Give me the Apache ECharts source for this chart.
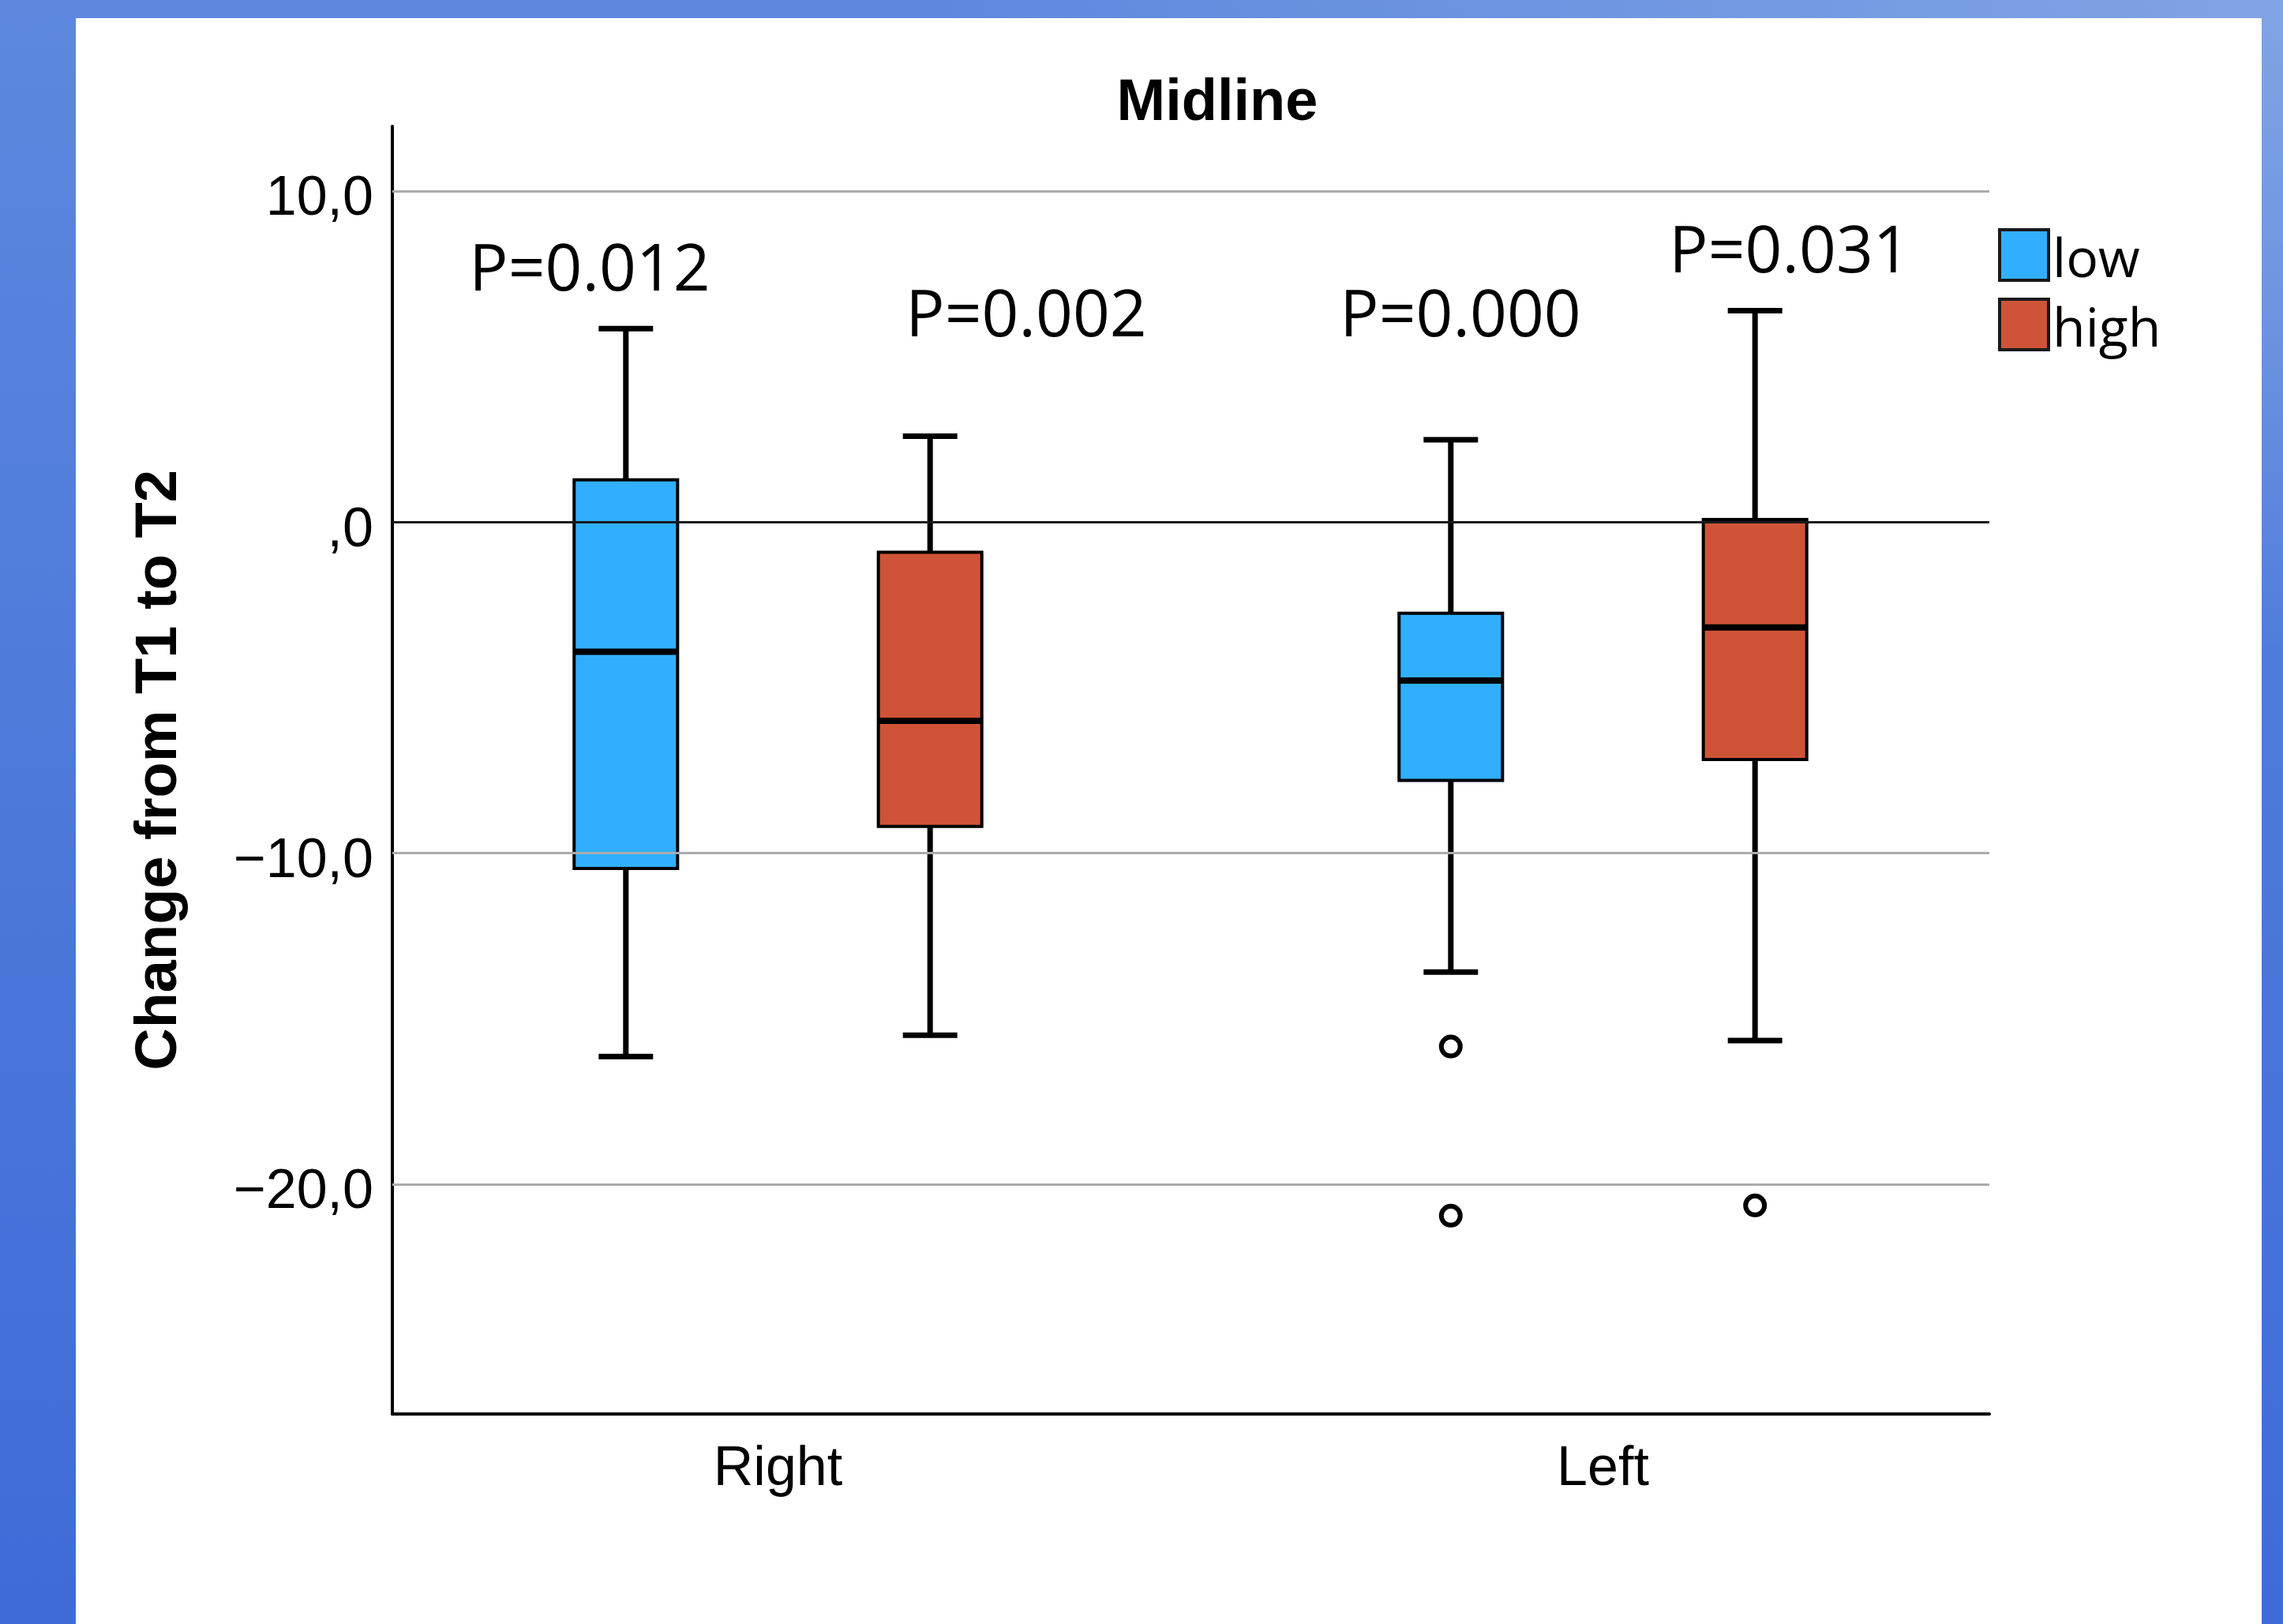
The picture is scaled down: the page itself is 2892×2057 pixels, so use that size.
<!DOCTYPE html>
<html><head><meta charset="utf-8">
<script src="https://cdn.jsdelivr.net/npm/echarts@6/dist/echarts.min.js"></script>
<style>
html,body{margin:0;padding:0;width:2892px;height:2057px;overflow:hidden;}
body{background:
  radial-gradient(ellipse 60% 40% at 100% 0%, rgba(130,166,228,0.95) 0%, rgba(130,166,228,0) 100%),
  linear-gradient(180deg,#5D88DE 0%,#4B77DA 55%,#3F6BD9 100%);}
#panel{position:absolute;left:96px;top:23px;width:2769px;height:2034px;background:#fff;}
#chart{position:absolute;left:0;top:0;width:2892px;height:2057px;}
</style></head><body>
<div id="panel"></div><div id="chart"></div>
<script>
// ---- data ----
const categories = ['Right', 'Left'];
const groupNames = ['low', 'high'];
// [min, Q1, median, Q3, max] per category
const lowStats  = [[-16.14, -10.46, -3.91, 1.28, 5.85], [-13.59, -7.80, -4.78, -2.75, 2.49]];
const highStats = [[-15.50, -9.19, -6.00, -0.91, 2.60], [-15.66, -7.17, -3.18, 0.08, 6.39]];
// outliers: [category, value]
const lowOutliers  = [['Left', -15.84], ['Left', -20.95]];
const highOutliers = [['Left', -20.64]];
const yTickValues = [-20, -10, 0, 10];
const yTickLabels = ['\u221220,0', '\u221210,0', ',0', '10,0'];
const pLabels = ['P=0.012', 'P=0.002', 'P=0.000', 'P=0.031'];
const titleText = 'Midline';
const yAxisTitle = 'Change from T1 to T2';

// ---- layout / style constants ----
const Y_MIN = -26.94, Y_MAX = 11.96;
const BOX_OFFSET = 0.1844, BOX_WIDTH = 0.1254, CAP_WIDTH = 0.066;
const colors = {low: '#31AFFE', high: '#CF5437'};
const pPos = [[747, 345], [1300, 403], [1850, 403], [2267, 322]];

function boxRender(side) {
  return function (params, api) {
    const cat = api.value(0);
    const band = api.size([1, 0])[0];
    const cx = api.coord([cat, 0])[0] + side * BOX_OFFSET * band;
    const y = v => api.coord([cat, v])[1];
    const yMin = y(api.value(1)), yQ1 = y(api.value(2)), yMed = y(api.value(3)),
          yQ3 = y(api.value(4)), yMax = y(api.value(5));
    const hw = BOX_WIDTH * band / 2, cw = CAP_WIDTH * band / 2;
    const ls = {stroke: '#000', lineWidth: 7};
    return {type: 'group', children: [
      {type: 'line', shape: {x1: cx, y1: yMax, x2: cx, y2: yQ3}, style: ls},
      {type: 'line', shape: {x1: cx, y1: yQ1, x2: cx, y2: yMin}, style: ls},
      {type: 'line', shape: {x1: cx - cw, y1: yMax, x2: cx + cw, y2: yMax}, style: ls},
      {type: 'line', shape: {x1: cx - cw, y1: yMin, x2: cx + cw, y2: yMin}, style: ls},
      {type: 'rect', shape: {x: cx - hw, y: yQ3, width: 2 * hw, height: yQ1 - yQ3},
        style: {fill: api.visual('color'), stroke: '#000', lineWidth: 4}},
      {type: 'line', shape: {x1: cx - hw, y1: yMed, x2: cx + hw, y2: yMed}, style: {stroke: '#000', lineWidth: 8}}
    ]};
  };
}
function outlierRender(side) {
  return function (params, api) {
    const cat = api.value(0);
    const band = api.size([1, 0])[0];
    const p = api.coord([cat, api.value(1)]);
    return {type: 'circle', shape: {cx: p[0] + side * BOX_OFFSET * band, cy: p[1], r: 12},
      style: {fill: '#fff', stroke: '#000', lineWidth: 6}};
  };
}
const statRows = stats => stats.map((s, i) => [i].concat(s));
const outRows = outs => outs.map(o => [categories.indexOf(o[0]), o[1]]);

const chart = echarts.init(document.getElementById('chart'), null, {renderer: 'canvas'});
chart.setOption({
  animation: false,
  backgroundColor: 'transparent',
  title: {text: titleText, left: 1542, top: 95, textAlign: 'center', padding: 0,
    textStyle: {fontSize: 74, fontWeight: 'bold', fontFamily: 'Liberation Sans', color: '#000'}},
  legend: {
    orient: 'vertical', left: 2526, top: 284, itemWidth: 62, itemHeight: 64, itemGap: 11,
    icon: 'rect', data: groupNames, selectedMode: false,
    itemStyle: {borderColor: '#1a1a1a', borderWidth: 4},
    formatter: name => '{t|' + name + '}',
    textStyle: {fontSize: 68, fontFamily: 'Open Sans', color: '#000',
      rich: {t: {fontSize: 68, fontFamily: 'Open Sans', color: '#000', padding: [18, 0, 0, 0]}}}
  },
  grid: [
    {left: 497, top: 160, width: 2023, height: 1631},
    {left: 463, top: 160, width: 2090, height: 1631}
  ],
  xAxis: [
    {gridIndex: 0, type: 'value', min: 0, max: 1,
      axisLine: {show: true, onZero: false, lineStyle: {color: '#000', width: 4}},
      axisTick: {show: false}, axisLabel: {show: false}, splitLine: {show: false}},
    {gridIndex: 1, type: 'category', data: categories,
      axisLine: {show: false}, axisTick: {show: false}, splitLine: {show: false},
      axisLabel: {fontSize: 70, fontFamily: 'Liberation Sans', color: '#000', margin: 36}}
  ],
  yAxis: [
    {gridIndex: 0, type: 'value', min: Y_MIN, max: Y_MAX,
      axisLine: {show: true, onZero: false, lineStyle: {color: '#000', width: 4}},
      axisTick: {show: false}, splitLine: {show: false},
      axisLabel: {customValues: yTickValues, fontSize: 70, fontFamily: 'Liberation Sans', color: '#000',
        margin: 24,
        formatter: v => { const i = yTickValues.indexOf(Math.round(v)); return i >= 0 ? '{t|' + yTickLabels[i] + '}' : ''; },
        rich: {t: {fontSize: 70, fontFamily: 'Liberation Sans', color: '#000', padding: [22, 0, 0, 0]}}},
      name: yAxisTitle, nameLocation: 'middle', nameRotate: 90, nameGap: 257,
      nameTextStyle: {fontSize: 74, fontWeight: 'bold', fontFamily: 'Liberation Sans', color: '#000'}},
    {gridIndex: 1, type: 'value', min: Y_MIN, max: Y_MAX, show: false}
  ],
  series: [
    {type: 'line', xAxisIndex: 0, yAxisIndex: 0, data: [], silent: true, z: 1,
      markLine: {silent: true, symbol: ['none', 'none'], label: {show: false}, animation: false,
        data: yTickValues.map(v => ({yAxis: v, lineStyle: {type: 'solid', width: 3, color: v === 0 ? '#1a1a1a' : '#ababab'}}))}},
    {name: 'low', type: 'custom', xAxisIndex: 1, yAxisIndex: 1, z: 3,
      itemStyle: {color: colors.low}, encode: {x: 0, y: [1, 2, 3, 4, 5]},
      renderItem: boxRender(-1), data: statRows(lowStats)},
    {name: 'high', type: 'custom', xAxisIndex: 1, yAxisIndex: 1, z: 3,
      itemStyle: {color: colors.high}, encode: {x: 0, y: [1, 2, 3, 4, 5]},
      renderItem: boxRender(1), data: statRows(highStats)},
    {name: 'low outliers', type: 'custom', xAxisIndex: 1, yAxisIndex: 1, z: 3,
      encode: {x: 0, y: 1}, renderItem: outlierRender(-1), data: outRows(lowOutliers)},
    {name: 'high outliers', type: 'custom', xAxisIndex: 1, yAxisIndex: 1, z: 3,
      encode: {x: 0, y: 1}, renderItem: outlierRender(1), data: outRows(highOutliers)}
  ],
  graphic: pLabels.map((t, i) => ({
    type: 'text', x: pPos[i][0], y: pPos[i][1], z: 10,
    style: {text: t, font: '82px "Open Sans"', fill: '#000',
      align: 'center', verticalAlign: 'middle', textAlign: 'center', textVerticalAlign: 'middle'}
  }))
});
</script>
</body></html>
